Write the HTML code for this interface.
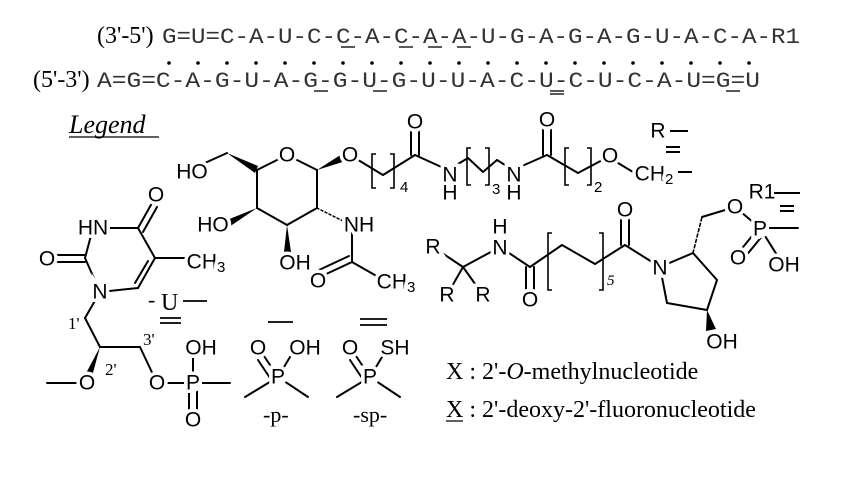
<!DOCTYPE html>
<html><head><meta charset="utf-8"><style>
html,body{margin:0;padding:0;background:#fff;}
svg{display:block;}
.b{stroke:#000;stroke-width:2;fill:none;stroke-linecap:round;}
.a{font-family:"Liberation Sans",sans-serif;font-size:21px;text-anchor:middle;dominant-baseline:central;fill:#000;paint-order:stroke;stroke:#fff;stroke-width:7px;}
.s{font-family:"Liberation Serif",serif;fill:#000;}
.m{font-family:"Liberation Mono",monospace;font-size:22px;fill:#333;}
.sub{font-family:"Liberation Sans",sans-serif;font-size:15px;fill:#000;}
</style></head><body>
<svg width="849" height="482" viewBox="0 0 849 482" xmlns="http://www.w3.org/2000/svg">
<!-- sequences -->
<text class="s" x="97" y="43" font-size="24">(3'-5')</text>
<text class="m" x="162" y="43" textLength="638" lengthAdjust="spacingAndGlyphs">G=U=C-A-U-C-C-A-C-A-A-U-G-A-G-A-G-U-A-C-A-R1</text>
<g fill="#000">
<circle cx="169" cy="63" r="1.8"/><circle cx="198" cy="63" r="1.8"/><circle cx="227" cy="63" r="1.8"/><circle cx="256" cy="63" r="1.8"/><circle cx="285" cy="63" r="1.8"/><circle cx="314" cy="63" r="1.8"/><circle cx="343" cy="63" r="1.8"/><circle cx="372" cy="63" r="1.8"/><circle cx="401" cy="63" r="1.8"/><circle cx="430" cy="63" r="1.8"/><circle cx="459" cy="63" r="1.8"/><circle cx="488" cy="63" r="1.8"/><circle cx="517" cy="63" r="1.8"/><circle cx="546" cy="63" r="1.8"/><circle cx="575" cy="63" r="1.8"/><circle cx="604" cy="63" r="1.8"/><circle cx="633" cy="63" r="1.8"/><circle cx="662" cy="63" r="1.8"/><circle cx="691" cy="63" r="1.8"/><circle cx="720" cy="63" r="1.8"/><circle cx="749" cy="63" r="1.8"/>
</g>
<g stroke="#000" stroke-width="1.3">
<line x1="341" y1="47" x2="355" y2="47"/><line x1="399" y1="47" x2="413" y2="47"/><line x1="428" y1="47" x2="442" y2="47"/><line x1="457" y1="47" x2="471" y2="47"/>
</g>
<text class="s" x="33" y="87" font-size="24">(5'-3')</text>
<text class="m" x="97" y="87" textLength="663" lengthAdjust="spacingAndGlyphs">A=G=C-A-G-U-A-G-G-U-G-U-U-A-C-U-C-U-C-A-U=G=U</text>
<g stroke="#000" stroke-width="1.3">
<line x1="314" y1="91" x2="328" y2="91"/><line x1="373" y1="91" x2="387" y2="91"/><line x1="550" y1="91" x2="564" y2="91"/><line x1="550" y1="94" x2="564" y2="94"/><line x1="726" y1="91" x2="740" y2="91"/>
</g>
<!-- legend -->
<text class="s" x="69" y="133" font-size="26" font-style="italic">Legend</text>
<line x1="69" y1="137" x2="159" y2="137" stroke="#000" stroke-width="1.3"/>

<!-- thymine nucleotide -->
<g class="b">
<line x1="93" y1="228" x2="138" y2="228"/>
<line x1="138" y1="228" x2="152" y2="203"/><line x1="143" y1="232" x2="157" y2="207"/>
<line x1="138" y1="228" x2="155" y2="258"/>
<line x1="155" y1="258" x2="190" y2="258"/>
<line x1="155" y1="258" x2="138" y2="288"/><line x1="148" y1="261" x2="135" y2="283"/>
<line x1="138" y1="288" x2="100" y2="292"/>
<line x1="100" y1="292" x2="85" y2="258"/>
<line x1="85" y1="258" x2="93" y2="228"/>
<line x1="85" y1="255" x2="50" y2="255"/><line x1="85" y1="262" x2="50" y2="262"/>
<line x1="100" y1="292" x2="85" y2="318"/>
<line x1="85" y1="318" x2="100" y2="347"/>
<line x1="87" y1="383" x2="47" y2="383"/>
<line x1="100" y1="347" x2="140" y2="347"/>
<line x1="140" y1="347" x2="157" y2="383"/>
<line x1="157" y1="383" x2="193" y2="383"/>
<line x1="193" y1="383" x2="230" y2="383"/>
<line x1="193" y1="383" x2="193" y2="358"/>
<line x1="189" y1="390" x2="189" y2="410"/><line x1="197" y1="390" x2="197" y2="410"/>
</g>
<polygon points="100,347 84,377 91,380" fill="#000"/>
<g fill="#fff">
<circle cx="87" cy="383" r="9"/><circle cx="157" cy="383" r="9"/><circle cx="193" cy="383" r="9"/>
<circle cx="287" cy="155" r="9"/><circle cx="350" cy="155" r="9"/><circle cx="610" cy="156" r="9"/>
<circle cx="735" cy="207" r="9"/><circle cx="760" cy="229" r="9"/><circle cx="278" cy="377" r="9"/><circle cx="370" cy="377" r="9"/>
<circle cx="100" cy="292" r="9"/><circle cx="660" cy="268" r="9"/><circle cx="500" cy="248" r="9"/>
</g>
<text class="a" x="93" y="228">HN</text>
<text class="a" x="156" y="195">O</text>
<text class="a" x="47" y="259">O</text>
<text class="a" x="100" y="292">N</text>
<text class="a" x="206" y="262">CH<tspan font-size="15" dy="5">3</tspan></text>
<text class="a" x="87" y="383">O</text>
<text class="a" x="157" y="383">O</text>
<text class="a" x="193" y="383">P</text>
<text class="a" x="201" y="348">OH</text>
<text class="a" x="193" y="420">O</text>
<text class="s" x="68" y="329" font-size="17">1'</text>
<text class="s" x="105" y="375" font-size="17">2'</text>
<text class="s" x="143" y="345" font-size="17">3'</text>
<!-- -U- -->
<text class="s" x="148" y="307" font-size="22">-</text>
<text class="s" x="161" y="310" font-size="24">U</text>
<g stroke="#000" stroke-width="1.8">
<line x1="183" y1="301" x2="207" y2="301"/>
<line x1="160" y1="318" x2="181" y2="318"/><line x1="160" y1="323" x2="181" y2="323"/>
<line x1="268" y1="322" x2="293" y2="322"/>
<line x1="360" y1="319" x2="387" y2="319"/><line x1="360" y1="325" x2="387" y2="325"/>
</g>
<!-- -p- -->
<g class="b">
<line x1="278" y1="377" x2="245" y2="397"/><line x1="278" y1="377" x2="308" y2="397"/>
<line x1="278" y1="377" x2="290" y2="357"/>
<line x1="276" y1="374" x2="264" y2="356"/><line x1="270" y1="378" x2="258" y2="360"/>
<line x1="370" y1="377" x2="337" y2="397"/><line x1="370" y1="377" x2="400" y2="397"/>
<line x1="370" y1="377" x2="382" y2="357"/>
<line x1="368" y1="374" x2="356" y2="356"/><line x1="362" y1="378" x2="350" y2="360"/>
</g>
<circle cx="278" cy="377" r="9" fill="#fff"/><circle cx="370" cy="377" r="9" fill="#fff"/>
<text class="a" x="258" y="348">O</text><text class="a" x="305" y="348">OH</text><text class="a" x="278" y="377">P</text>
<text class="s" x="263" y="422" font-size="22">-p-</text>
<text class="a" x="350" y="348">O</text><text class="a" x="395" y="348">SH</text><text class="a" x="370" y="377">P</text>
<text class="s" x="353" y="422" font-size="22">-sp-</text>

<!-- sugar -->
<g class="b">
<line x1="185" y1="172" x2="227" y2="153"/>
<line x1="257" y1="170" x2="287" y2="155"/><line x1="287" y1="155" x2="317" y2="170"/>
<line x1="257" y1="170" x2="257" y2="208"/><line x1="257" y1="208" x2="287" y2="225"/>
<line x1="287" y1="225" x2="317" y2="208"/><line x1="317" y1="208" x2="317" y2="170"/>
<line x1="317" y1="208" x2="345" y2="222" stroke-dasharray="2,2.5" stroke-width="1.5"/>
<line x1="352" y1="232" x2="352" y2="262"/>
<line x1="352" y1="262" x2="322" y2="276"/><line x1="349" y1="256" x2="319" y2="270"/>
<line x1="352" y1="262" x2="380" y2="278"/>
<line x1="350" y1="155" x2="383" y2="175"/><line x1="383" y1="175" x2="415" y2="155"/>
<line x1="415" y1="155" x2="448" y2="170"/>
<line x1="411" y1="155" x2="411" y2="125"/><line x1="419" y1="155" x2="419" y2="125"/>
<line x1="448" y1="170" x2="468" y2="158"/><line x1="468" y1="158" x2="483" y2="172"/><line x1="483" y1="172" x2="497" y2="160"/><line x1="497" y1="160" x2="513" y2="170"/>
<line x1="513" y1="170" x2="547" y2="155"/>
<line x1="543" y1="155" x2="543" y2="125"/><line x1="551" y1="155" x2="551" y2="125"/>
<line x1="547" y1="155" x2="578" y2="173"/><line x1="578" y1="173" x2="608" y2="157"/>
<line x1="608" y1="157" x2="633" y2="172"/>
</g>
<polygon points="227,153 258,166 255,173" fill="#000"/>
<polygon points="317,170 345,152 349,160" fill="#000"/>
<polygon points="257,208 222,222 226,229" fill="#000"/>
<polygon points="287,225 284,252 291,252" fill="#000"/>
<g stroke="#000" stroke-width="1.6" fill="none">
<path d="M376,154 h-4 v34 h4"/><path d="M390,154 h4 v34 h-4"/>
<path d="M471,148 h-4 v37 h4"/><path d="M485,148 h4 v37 h-4"/>
<path d="M569,148 h-4 v37 h4"/><path d="M587,148 h4 v37 h-4"/>
</g>
<g fill="#fff"><circle cx="287" cy="155" r="9"/><circle cx="350" cy="155" r="9"/><circle cx="610" cy="156" r="9"/></g>
<text class="a" x="192" y="172">HO</text>
<text class="a" x="287" y="155">O</text>
<text class="a" x="350" y="155">O</text>
<text class="a" x="213" y="225">HO</text>
<text class="a" x="295" y="263">OH</text>
<text class="a" x="359" y="225">NH</text>
<text class="a" x="318" y="281">O</text>
<text class="a" x="396" y="282">CH<tspan font-size="15" dy="5">3</tspan></text>
<text class="a" x="415" y="122">O</text>
<text class="sub" x="400" y="192" font-size="17">4</text>
<text class="a" x="450" y="175">N</text><text class="a" x="450" y="193">H</text>
<text class="sub" x="492" y="194" font-size="17">3</text>
<text class="a" x="514" y="175">N</text><text class="a" x="514" y="193">H</text>
<text class="a" x="547" y="120">O</text>
<text class="sub" x="594" y="192" font-size="17">2</text>
<text class="a" x="610" y="156">O</text>
<text class="a" x="654" y="174">CH<tspan font-size="15" dy="5">2</tspan></text>
<g stroke="#000" stroke-width="2">
<line x1="678" y1="172" x2="692" y2="172"/>
<line x1="670" y1="131" x2="688" y2="131"/>
<line x1="666" y1="147" x2="680" y2="147"/><line x1="666" y1="152" x2="680" y2="152"/>
<line x1="774" y1="193" x2="800" y2="193"/>
<line x1="780" y1="206" x2="794" y2="206"/><line x1="780" y1="211" x2="794" y2="211"/>
</g>
<text class="a" x="658" y="131" style="stroke:none">R</text>
<text class="a" x="762" y="192" style="stroke:none">R1</text>

<!-- lower right -->
<g class="b">
<line x1="433" y1="247" x2="463" y2="267"/>
<line x1="463" y1="267" x2="447" y2="295"/><line x1="463" y1="267" x2="483" y2="295"/>
<line x1="463" y1="267" x2="500" y2="247"/>
<line x1="500" y1="247" x2="530" y2="267"/>
<line x1="526" y1="267" x2="526" y2="293"/><line x1="534" y1="267" x2="534" y2="293"/>
<line x1="530" y1="267" x2="562" y2="245"/><line x1="562" y1="245" x2="595" y2="264"/><line x1="595" y1="264" x2="625" y2="245"/>
<line x1="621" y1="245" x2="621" y2="216"/><line x1="629" y1="245" x2="629" y2="216"/>
<line x1="625" y1="245" x2="660" y2="267"/>
<line x1="660" y1="267" x2="693" y2="253"/><line x1="693" y1="253" x2="717" y2="280"/>
<line x1="717" y1="280" x2="707" y2="310"/><line x1="707" y1="310" x2="667" y2="303"/><line x1="667" y1="303" x2="660" y2="267"/>
<line x1="693" y1="253" x2="702" y2="217" stroke-dasharray="3,2.5" stroke-width="1.6"/>
<line x1="702" y1="217" x2="735" y2="207"/><line x1="735" y1="207" x2="760" y2="228"/>
<line x1="760" y1="228" x2="798" y2="228"/>
<line x1="760" y1="228" x2="782" y2="263"/>
<line x1="757" y1="230" x2="739" y2="252"/><line x1="763" y1="235" x2="745" y2="257"/>
</g>
<polygon points="707,310 706,331 716,329" fill="#000"/>
<g stroke="#000" stroke-width="1.6" fill="none">
<path d="M552,233 h-4 v57 h4"/><path d="M599,233 h4 v57 h-4"/>
</g>
<g fill="#fff"><circle cx="735" cy="207" r="9"/><circle cx="760" cy="229" r="9"/><circle cx="660" cy="268" r="9"/><circle cx="500" cy="248" r="9"/></g>
<text class="a" x="433" y="247">R</text>
<text class="a" x="447" y="295">R</text>
<text class="a" x="483" y="295">R</text>
<text class="a" x="500" y="227">H</text>
<text class="a" x="500" y="248">N</text>
<text class="a" x="530" y="300">O</text>
<text class="sub" x="607" y="285" font-size="18" font-style="italic" style="font-family:'Liberation Serif',serif">5</text>
<text class="a" x="625" y="210">O</text>
<text class="a" x="660" y="268">N</text>
<text class="a" x="722" y="342">OH</text>
<text class="a" x="735" y="207">O</text>
<text class="a" x="760" y="229">P</text>
<text class="a" x="738" y="258">O</text>
<text class="a" x="784" y="265">OH</text>

<text class="s" x="446" y="379" font-size="24">X : 2'-<tspan font-style="italic">O</tspan>-methylnucleotide</text>
<text class="s" x="446" y="417" font-size="24">X : 2'-deoxy-2'-fluoronucleotide</text>
<line x1="446" y1="421" x2="463" y2="421" stroke="#000" stroke-width="1.3"/>
</svg>
</body></html>
